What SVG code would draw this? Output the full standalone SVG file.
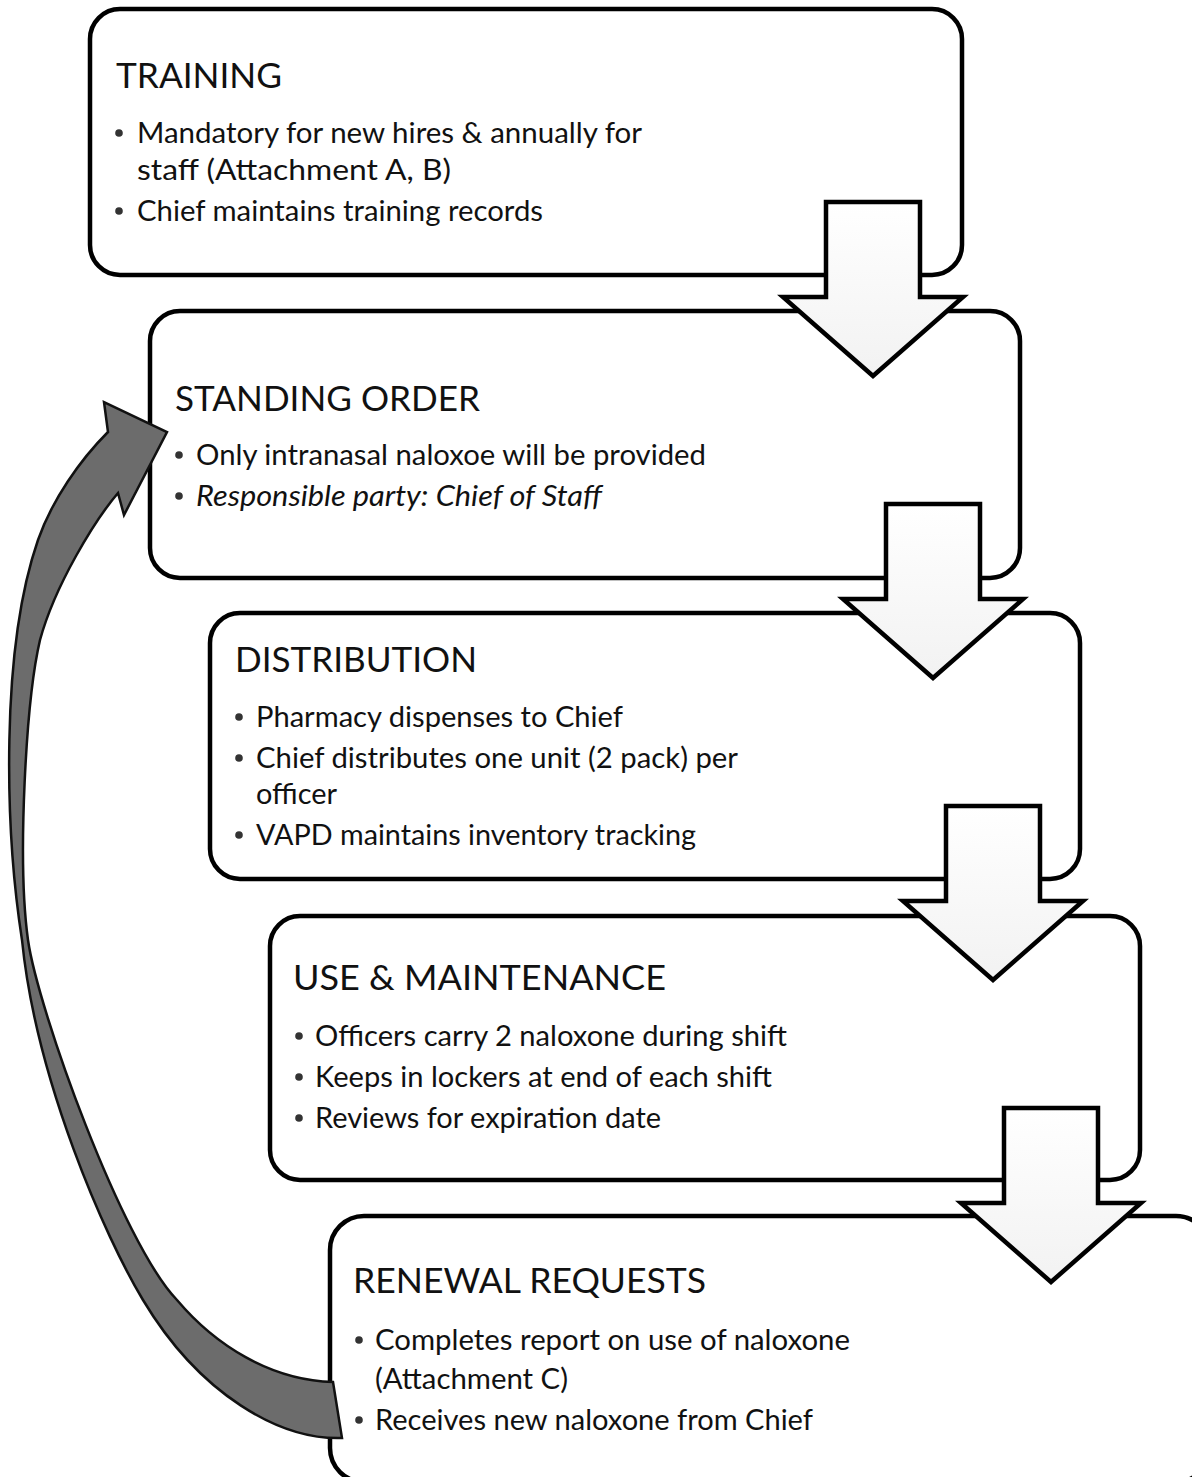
<svg xmlns="http://www.w3.org/2000/svg" width="1192" height="1477" viewBox="0 0 1192 1477">
<defs>
<linearGradient id="shaft" x1="0" y1="0" x2="0" y2="1">
<stop offset="0" stop-color="#ffffff"/>
<stop offset="1" stop-color="#f2f2f2"/>
</linearGradient>
<style>
.box{fill:#ffffff;stroke:#000000;stroke-width:4.5}
.down{fill:url(#shaft);stroke:#000000;stroke-width:4.5;stroke-linejoin:miter}
.curve{fill:#6c6c6c;stroke:#111111;stroke-width:2.5;stroke-linejoin:miter}
.title{font-family:Lato,"Open Sans","Liberation Sans",sans-serif;font-size:35px;fill:#111111}
.item{font-family:Lato,"Open Sans","Liberation Sans",sans-serif;font-size:29px;fill:#111111}
.it{font-style:italic}
.dot{fill:#333333}
</style>
</defs>
<rect width="1192" height="1477" fill="#ffffff"/>

<g id="training">
<rect class="box" x="90" y="9" width="872" height="266" rx="30" ry="30"/>
<text class="title" x="116" y="88" textLength="166" lengthAdjust="spacingAndGlyphs">TRAINING</text>
<circle class="dot" cx="119" cy="133" r="3.8"/>
<text class="item" x="137" y="143" textLength="505" lengthAdjust="spacingAndGlyphs">Mandatory for new hires &amp; annually for</text>
<text class="item" x="137" y="180" textLength="314" lengthAdjust="spacingAndGlyphs">staff (Attachment A, B)</text>
<circle class="dot" cx="119" cy="211" r="3.8"/>
<text class="item" x="137" y="221" textLength="406" lengthAdjust="spacingAndGlyphs">Chief maintains training records</text>
</g>

<g id="standing-order">
<rect class="box" x="150" y="311" width="870" height="267" rx="30" ry="30"/>
<text class="title" x="175" y="411" textLength="305" lengthAdjust="spacingAndGlyphs">STANDING ORDER</text>
<circle class="dot" cx="179" cy="455" r="3.8"/>
<text class="item" x="196" y="465" textLength="510" lengthAdjust="spacingAndGlyphs">Only intranasal naloxoe will be provided</text>
<circle class="dot" cx="179" cy="496" r="3.8"/>
<text class="item it" x="196" y="506" textLength="406" lengthAdjust="spacingAndGlyphs">Responsible party: Chief of Staff</text>
</g>

<g id="distribution">
<rect class="box" x="210" y="613" width="870" height="266" rx="30" ry="30"/>
<text class="title" x="235" y="672" textLength="242" lengthAdjust="spacingAndGlyphs">DISTRIBUTION</text>
<circle class="dot" cx="239" cy="717" r="3.8"/>
<text class="item" x="256" y="727" textLength="367" lengthAdjust="spacingAndGlyphs">Pharmacy dispenses to Chief</text>
<circle class="dot" cx="239" cy="758" r="3.8"/>
<text class="item" x="256" y="768" textLength="482" lengthAdjust="spacingAndGlyphs">Chief distributes one unit (2 pack) per</text>
<text class="item" x="256" y="804" textLength="81" lengthAdjust="spacingAndGlyphs">officer</text>
<circle class="dot" cx="239" cy="835" r="3.8"/>
<text class="item" x="256" y="845" textLength="440" lengthAdjust="spacingAndGlyphs">VAPD maintains inventory tracking</text>
</g>

<g id="use-maintenance">
<rect class="box" x="270" y="916" width="870" height="264" rx="30" ry="30"/>
<text class="title" x="293" y="990" textLength="373" lengthAdjust="spacingAndGlyphs">USE &amp; MAINTENANCE</text>
<circle class="dot" cx="299" cy="1036" r="3.8"/>
<text class="item" x="315" y="1046" textLength="472" lengthAdjust="spacingAndGlyphs">Officers carry 2 naloxone during shift</text>
<circle class="dot" cx="299" cy="1077" r="3.8"/>
<text class="item" x="315" y="1087" textLength="457" lengthAdjust="spacingAndGlyphs">Keeps in lockers at end of each shift</text>
<circle class="dot" cx="299" cy="1118" r="3.8"/>
<text class="item" x="315" y="1128" textLength="346" lengthAdjust="spacingAndGlyphs">Reviews for expiration date</text>
</g>

<g id="renewal-requests">
<rect class="box" x="330" y="1216" width="880" height="266" rx="34" ry="34"/>
<text class="title" x="353" y="1293" textLength="353" lengthAdjust="spacingAndGlyphs">RENEWAL REQUESTS</text>
<circle class="dot" cx="359" cy="1340" r="3.8"/>
<text class="item" x="375" y="1350" textLength="475" lengthAdjust="spacingAndGlyphs">Completes report on use of naloxone</text>
<text class="item" x="375" y="1389" textLength="193" lengthAdjust="spacingAndGlyphs">(Attachment C)</text>
<circle class="dot" cx="359" cy="1420" r="3.8"/>
<text class="item" x="375" y="1430" textLength="438" lengthAdjust="spacingAndGlyphs">Receives new naloxone from Chief</text>
</g>

<g id="connectors">
<polygon class="down" points="826,202 920,202 920,297 963,297 873,376 783,297 826,297"/>
<polygon class="down" points="886,504 980,504 980,599 1023,599 933,678 843,599 886,599"/>
<polygon class="down" points="946,806 1040,806 1040,901 1083,901 993,980 903,901 946,901"/>
<polygon class="down" points="1004,1108 1098,1108 1098,1203 1141,1203 1051,1282 961,1203 1004,1203"/>
<path class="curve" d="M342,1438 C280,1440 200,1395 143,1300 C105,1237 36,1080 22,940 C5,830 0,650 38,540 C52,500 80,460 108,432 L104,402 L167,432 L124,515 L118,493 C95,520 55,585 40,640 C26,700 17,860 28,940 C38,1010 122,1243 177,1300 C215,1345 270,1380 333,1382 Z"/>
</g>
</svg>
